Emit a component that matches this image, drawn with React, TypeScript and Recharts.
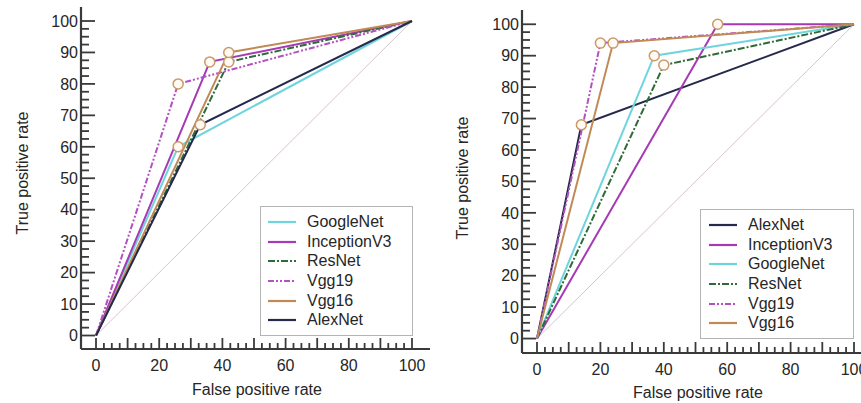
import React from 'react';
import { LineChart, Line, XAxis, YAxis, ReferenceLine, Legend } from 'recharts';

const FONT = '"Liberation Sans", Arial, Helvetica, sans-serif';
const FS = 16;

// ---- Left chart data (False positive rate, True positive rate), index of marked point ----
const leftGoogleNetFpr = [0, 26, 100];
const leftGoogleNetTpr = [0, 60, 100];
const leftInceptionFpr = [0, 36, 100];
const leftInceptionTpr = [0, 87, 100];
const leftResNetFpr = [0, 42, 100];
const leftResNetTpr = [0, 87, 100];
const leftVgg19Fpr = [0, 26, 100];
const leftVgg19Tpr = [0, 80, 100];
const leftVgg16Fpr = [0, 42, 100];
const leftVgg16Tpr = [0, 90, 100];
const leftAlexNetFpr = [0, 33, 100];
const leftAlexNetTpr = [0, 67, 100];

// ---- Right chart data ----
const rightAlexNetFpr = [0, 14, 100];
const rightAlexNetTpr = [0, 68, 100];
const rightInceptionFpr = [0, 57, 100];
const rightInceptionTpr = [0, 100, 100];
const rightGoogleNetFpr = [0, 37, 100];
const rightGoogleNetTpr = [0, 90, 100];
const rightResNetFpr = [0, 40, 100];
const rightResNetTpr = [0, 87, 100];
const rightVgg19Fpr = [0, 20, 100];
const rightVgg19Tpr = [0, 94, 100];
const rightVgg16Fpr = [0, 24, 100];
const rightVgg16Tpr = [0, 94, 100];

const markedIndex = 1;

// ---- ticks ----
const xLabelTicks = [0, 20, 40, 60, 80, 100];
const yLabelTicks = [0, 10, 20, 30, 40, 50, 60, 70, 80, 90, 100];
const minorTicks: number[] = [];
for (let v = 0; v <= 100; v += 2.5) minorTicks.push(v);

// ---- styles ----
const STYLE: Record<string, { color: string; dash?: string }> = {
  GoogleNet: { color: '#6fd5dc' },
  InceptionV3: { color: '#a63ab4' },
  ResNet: { color: '#2f6b38', dash: '7 2 2 2' },
  Vgg19: { color: '#b450c4', dash: '6 2 2 2 2 2' },
  Vgg16: { color: '#c08a56' },
  AlexNet: { color: '#252a4c' },
};

const build = (fpr: number[], tpr: number[]) => fpr.map((x, i) => ({ x, y: tpr[i] }));

const leftSeries = [
  { name: 'GoogleNet', data: build(leftGoogleNetFpr, leftGoogleNetTpr) },
  { name: 'InceptionV3', data: build(leftInceptionFpr, leftInceptionTpr) },
  { name: 'ResNet', data: build(leftResNetFpr, leftResNetTpr) },
  { name: 'Vgg19', data: build(leftVgg19Fpr, leftVgg19Tpr) },
  { name: 'Vgg16', data: build(leftVgg16Fpr, leftVgg16Tpr) },
  { name: 'AlexNet', data: build(leftAlexNetFpr, leftAlexNetTpr) },
];

const rightSeries = [
  { name: 'AlexNet', data: build(rightAlexNetFpr, rightAlexNetTpr) },
  { name: 'InceptionV3', data: build(rightInceptionFpr, rightInceptionTpr) },
  { name: 'GoogleNet', data: build(rightGoogleNetFpr, rightGoogleNetTpr) },
  { name: 'ResNet', data: build(rightResNetFpr, rightResNetTpr) },
  { name: 'Vgg19', data: build(rightVgg19Fpr, rightVgg19Tpr) },
  { name: 'Vgg16', data: build(rightVgg16Fpr, rightVgg16Tpr) },
];

const AXIS = '#3a3a3a';
const TEXT = '#262626';

const XTick = (props: any) => {
  const { x, y, payload } = props;
  const v = payload.value as number;
  const major = v % 10 === 0;
  const label = xLabelTicks.includes(v);
  return (
    <g>
      <line x1={x} x2={x} y1={y} y2={y - (major ? 11 : 6)} stroke={AXIS} strokeWidth={1.8} />
      {label && (
        <text x={x} y={y + 22} textAnchor="middle" fontFamily={FONT} fontSize={FS} fill={TEXT}>
          {v}
        </text>
      )}
    </g>
  );
};

const YTick = (props: any) => {
  const { x, y, payload } = props;
  const v = payload.value as number;
  const major = v % 10 === 0;
  const label = yLabelTicks.includes(v);
  return (
    <g>
      <line x1={x} x2={x + (major ? 14 : 8)} y1={y} y2={y} stroke={AXIS} strokeWidth={1.8} />
      {label && (
        <text x={x - 3} y={y + 5.7} textAnchor="end" fontFamily={FONT} fontSize={FS} fill={TEXT}>
          {v}
        </text>
      )}
    </g>
  );
};

const MarkDot = (props: any) => {
  const { cx, cy, index } = props;
  if (index !== markedIndex || cx == null) return <g key={`n${index}`} />;
  return <circle key={`m${index}`} cx={cx} cy={cy} r={5} fill="#fffaf3" stroke="#c9996a" strokeWidth={1.5} />;
};

const makeLegend = (names: string[], rowTop: number, sampleLeft: number, textLeft: number) => () => (
  <div
    style={{
      width: '100%',
      height: '100%',
      boxSizing: 'border-box',
      border: '1px solid #b4b4b4',
      background: '#ffffff',
      paddingTop: rowTop,
      fontFamily: FONT,
      fontSize: FS,
      color: TEXT,
    }}
  >
    {names.map((n) => (
      <div key={n} style={{ position: 'relative', height: 19.7, lineHeight: '19.7px' }}>
        <svg width={30} height={19.7} style={{ position: 'absolute', left: sampleLeft, top: 0 }}>
          <line x1={0} x2={28} y1={10} y2={10} stroke={STYLE[n].color} strokeWidth={2.2} strokeDasharray={STYLE[n].dash} />
        </svg>
        <span style={{ position: 'absolute', left: textLeft, top: 0, whiteSpace: 'nowrap' }}>{n}</span>
      </div>
    ))}
  </div>
);

type PanelProps = {
  left: number;
  width: number;
  margin: { top: number; right: number; left: number; bottom: number };
  xDomain: [number, number];
  yDomain: [number, number];
  series: { name: string; data: { x: number; y: number }[] }[];
  legendBox: { left: number; top: number; width: number; height: number };
  legendRowTop: number;
  legendSampleLeft: number;
  legendTextLeft: number;
  xTitle: { x: number; y: number };
  yTitle: { x: number; y: number };
};

const Panel = (p: PanelProps) => (
  <div style={{ position: 'absolute', left: p.left, top: 0, width: p.width, height: 403 }}>
    <LineChart width={p.width} height={403} margin={p.margin}>
      <XAxis
        type="number"
        dataKey="x"
        domain={p.xDomain}
        allowDataOverflow
        ticks={minorTicks}
        interval={0}
        tick={<XTick />}
        tickLine={false}
        tickSize={0}
        tickMargin={0}
        height={1}
        axisLine={{ stroke: AXIS, strokeWidth: 2.2 }}
      />
      <YAxis
        type="number"
        dataKey="y"
        domain={p.yDomain}
        allowDataOverflow
        ticks={minorTicks}
        interval={0}
        tick={<YTick />}
        tickLine={false}
        tickSize={0}
        tickMargin={0}
        width={1}
        axisLine={{ stroke: AXIS, strokeWidth: 2.2 }}
      />
      <ReferenceLine
        segment={[
          { x: 0, y: 0 },
          { x: 100, y: 100 },
        ]}
        stroke="#d9c4cf"
        strokeWidth={1}
        ifOverflow="visible"
      />
      {p.series.map((s) => (
        <Line
          key={s.name}
          data={s.data}
          dataKey="y"
          name={s.name}
          type="linear"
          stroke={STYLE[s.name].color}
          strokeWidth={2}
          strokeDasharray={STYLE[s.name].dash}
          dot={<MarkDot />}
          activeDot={false}
          isAnimationActive={false}
        />
      ))}
      <Legend
        layout="vertical"
        align="center"
        verticalAlign="middle"
        wrapperStyle={{ ...p.legendBox, position: 'absolute' }}
        content={makeLegend(
          p.series.map((s) => s.name),
          p.legendRowTop,
          p.legendSampleLeft,
          p.legendTextLeft
        )}
      />
    </LineChart>
    <svg width={p.width} height={403} style={{ position: 'absolute', left: 0, top: 0, pointerEvents: 'none' }}>
      <text x={p.xTitle.x} y={p.xTitle.y} textAnchor="middle" fontFamily={FONT} fontSize={FS} fill={TEXT}>
        False positive rate
      </text>
      <text
        x={p.yTitle.x}
        y={p.yTitle.y}
        textAnchor="middle"
        fontFamily={FONT}
        fontSize={FS}
        fill={TEXT}
        transform={`rotate(-90 ${p.yTitle.x} ${p.yTitle.y})`}
      >
        True positive rate
      </text>
    </svg>
  </div>
);

export default function App() {
  return (
    <div style={{ position: 'absolute', left: 0, top: 0, width: 861, height: 403, overflow: 'hidden', background: '#ffffff' }}>
      <Panel
        left={0}
        width={440}
        margin={{ top: 7, right: 10, left: 80, bottom: 53 }}
        xDomain={[-4.75, 105.7]}
        yDomain={[-4.29, 104.45]}
        series={leftSeries}
        legendBox={{ left: 260, top: 206, width: 153, height: 130 }}
        legendRowTop={5}
        legendSampleLeft={7}
        legendTextLeft={46}
        xTitle={{ x: 257, y: 395 }}
        yTitle={{ x: 28, y: 173 }}
      />
      <Panel
        left={430}
        width={460}
        margin={{ top: 10, right: 10, left: 91, bottom: 49 }}
        xDomain={[-4.73, 108.2]}
        yDomain={[-4.6, 104.54]}
        series={rightSeries}
        legendBox={{ left: 270, top: 209, width: 154, height: 130 }}
        legendRowTop={5}
        legendSampleLeft={8}
        legendTextLeft={47}
        xTitle={{ x: 268, y: 397.5 }}
        yTitle={{ x: 38, y: 178 }}
      />
    </div>
  );
}
